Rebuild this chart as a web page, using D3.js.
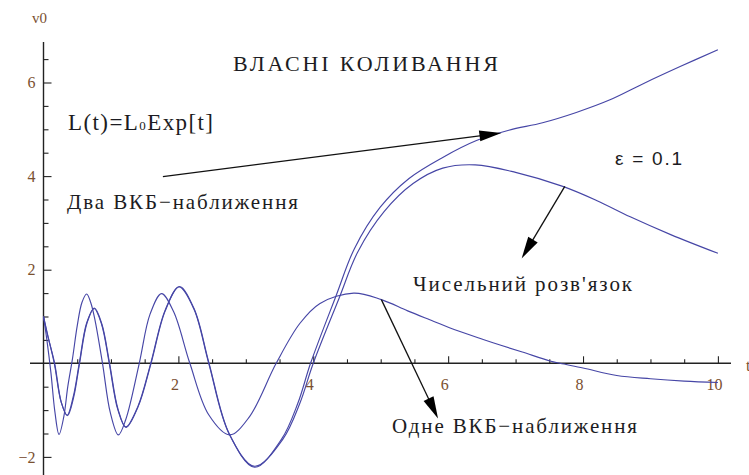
<!DOCTYPE html>
<html>
<head>
<meta charset="utf-8">
<script src="https://cdn.jsdelivr.net/npm/d3@7"></script>
<style>
  html, body { margin: 0; padding: 0; background: #fff; }
  svg { display: block; }
</style>
</head>
<body>
<svg id="chart" width="749" height="475"></svg>
<script>
// Numerical solution v0(t)
const numericalSolution = [
  [0, 1.0], [0.06, 0.62], [0.16, 0.0], [0.26, -0.82], [0.35, -1.11], [0.44, -0.72],
  [0.53, 0.0], [0.64, 0.86], [0.75, 1.17], [0.86, 0.84], [0.975, 0.0], [1.10, -0.98],
  [1.22, -1.36], [1.40, -0.92], [1.59, 0.0], [1.80, 1.12], [2.01, 1.63], [2.23, 1.16],
  [2.45, 0.0], [2.75, -1.5], [3.13, -2.2], [3.55, -1.62], [3.80, -0.86], [4.0, 0.0],
  [4.38, 1.38], [4.66, 2.38], [5.05, 3.24], [5.48, 3.84], [5.92, 4.17], [6.4, 4.24],
  [7.0, 4.08], [7.7, 3.78], [8.2, 3.48], [8.7, 3.13], [9.3, 2.75], [10, 2.35]
];

// Two-term WKB approximation
const twoWkb = [
  [0, 1.0], [0.06, 0.6], [0.165, 0.0], [0.265, -0.84], [0.355, -1.12], [0.445, -0.74],
  [0.535, 0.0], [0.645, 0.86], [0.755, 1.18], [0.865, 0.84], [0.98, 0.0], [1.105, -0.98],
  [1.225, -1.37], [1.405, -0.92], [1.595, 0.0], [1.805, 1.12], [2.015, 1.64], [2.235, 1.16],
  [2.455, 0.0], [2.755, -1.51], [3.13, -2.22], [3.53, -1.62], [3.77, -0.86], [3.96, 0.0],
  [4.34, 1.45], [4.61, 2.45], [4.99, 3.33], [5.42, 3.95], [5.92, 4.40], [6.42, 4.76],
  [6.9, 4.98], [7.4, 5.14], [7.9, 5.36], [8.4, 5.63], [8.9, 5.98], [9.44, 6.34], [10, 6.70]
];

// One-term WKB approximation
const oneWkb = [
  [0, 1.0], [0.05, 0.5], [0.11, -0.2], [0.17, -1.05], [0.23, -1.52], [0.30, -1.15],
  [0.36, -0.5], [0.43, 0.1], [0.50, 0.8], [0.57, 1.3], [0.64, 1.48], [0.70, 1.3],
  [0.76, 0.95], [0.875, 0.0], [0.99, -1.05], [1.11, -1.53], [1.22, -1.2], [1.42, 0.0],
  [1.58, 1.05], [1.75, 1.49], [1.93, 1.1], [2.17, 0.0], [2.45, -1.1], [2.76, -1.53],
  [3.05, -1.15], [3.45, 0.0], [3.8, 0.85], [4.1, 1.28], [4.6, 1.5], [5.01, 1.36],
  [5.4, 1.12], [5.78, 0.9], [6.02, 0.76], [6.52, 0.51], [6.77, 0.39], [7.1, 0.24],
  [7.51, 0.05], [7.66, 0.0], [8.0, -0.1], [8.5, -0.26], [9.0, -0.33], [9.5, -0.38],
  [10.0, -0.41]
];

const xMajorTicks = [2, 4, 6, 8, 10];
const yMajorTicks = [-2, 2, 4, 6];

const titleText = "ВЛАСНІ КОЛИВАННЯ";
const lawText = ["L(t)=L", "0", "Exp[t]"];
const twoWkbLabel = "Два ВКБ−наближення";
const numericalLabel = "Чисельний розв'язок";
const oneWkbLabel = "Одне ВКБ−наближення";
const epsLabel = "ε = 0.1";

// Arrow annotations: [from, to] in data units
const twoWkbArrow = [[1.77, 3.99], [6.79, 4.92]];
const numericalArrow = [[7.73, 3.78], [7.09, 2.24]];
const oneWkbArrow = [[5.01, 1.36], [5.85, -1.18]];

const svg = d3.select("#chart");
const x = d3.scaleLinear().domain([0, 10]).range([43.5, 717.9]);
const y = d3.scaleLinear().domain([0, 6]).range([363.3, 82.5]);

const serif = '"Liberation Serif", "DejaVu Serif", "Times New Roman", serif';
const sans = '"Liberation Sans", Arial, sans-serif';
const axisColor = "#222";
const tickLabelColor = "#7a5030";
const curveColor = "#4646a6";
const intFormat = d3.format("d");

// ----- axes -----
const xMinorTicks = d3.range(0.5, 10.01, 0.5).filter(v => !xMajorTicks.includes(v));
const yMinorTicks = d3.range(-2.5, 6.51, 0.5)
  .filter(v => !yMajorTicks.includes(v) && v !== 0 && y(v) > 42 && y(v) < 475);

function styleAxis(g) {
  g.attr("font-family", null).attr("font-size", null);
  g.select(".domain").remove();
  g.selectAll(".tick line").attr("stroke", axisColor).attr("stroke-width", 1.1);
  g.selectAll(".tick text")
    .attr("fill", tickLabelColor)
    .attr("font-family", serif)
    .attr("font-size", 16);
}

const xAxisG = svg.append("g").attr("transform", `translate(0,${y(0)})`);
xAxisG.append("g")
  .call(d3.axisBottom(x).tickValues(xMinorTicks).tickSizeInner(-4).tickSizeOuter(0).tickFormat(""))
  .call(styleAxis);
xAxisG.append("g")
  .call(d3.axisBottom(x).tickValues(xMajorTicks).tickSizeInner(-7).tickSizeOuter(0)
    .tickPadding(15).tickFormat(intFormat))
  .call(styleAxis)
  .call(g => g.selectAll(".tick text").attr("x", -4));

const yAxisG = svg.append("g").attr("transform", `translate(${x(0)},0)`);
yAxisG.append("g")
  .call(d3.axisLeft(y).tickValues(yMinorTicks).tickSizeInner(-5).tickSizeOuter(0).tickFormat(""))
  .call(styleAxis);
yAxisG.append("g")
  .call(d3.axisLeft(y).tickValues(yMajorTicks).tickSizeInner(-8).tickSizeOuter(0)
    .tickPadding(8).tickFormat(intFormat))
  .call(styleAxis);

// axis lines
svg.append("line")
  .attr("x1", 30).attr("x2", 731).attr("y1", y(0)).attr("y2", y(0))
  .attr("stroke", axisColor).attr("stroke-width", 1.4);
svg.append("line")
  .attr("x1", x(0)).attr("x2", x(0)).attr("y1", 42).attr("y2", 475)
  .attr("stroke", axisColor).attr("stroke-width", 1.4);

// axis names
svg.append("text")
  .attr("x", 32).attr("y", 23)
  .attr("fill", tickLabelColor)
  .attr("font-family", serif).attr("font-size", 15)
  .text("v0");
svg.append("text")
  .attr("x", 746).attr("y", 371)
  .attr("fill", tickLabelColor)
  .attr("font-family", serif).attr("font-size", 16)
  .text("t");

// ----- curves -----
const line = d3.line()
  .x(d => x(d[0]))
  .y(d => y(d[1]))
  .curve(d3.curveCatmullRom.alpha(0.5));

[numericalSolution, twoWkb, oneWkb].forEach(series => {
  svg.append("path")
    .attr("d", line(series))
    .attr("fill", "none")
    .attr("stroke", curveColor)
    .attr("stroke-width", 1.15);
});

// ----- arrows -----
function drawArrow([from, to]) {
  const x1 = x(from[0]), y1 = y(from[1]);
  const x2 = x(to[0]), y2 = y(to[1]);
  const dx = x2 - x1, dy = y2 - y1;
  const len = Math.hypot(dx, dy);
  const ux = dx / len, uy = dy / len;
  const headLen = 22, headHalf = 5.5;
  const bx = x2 - ux * headLen, by = y2 - uy * headLen;
  svg.append("line")
    .attr("x1", x1).attr("y1", y1).attr("x2", bx + ux * 2).attr("y2", by + uy * 2)
    .attr("stroke", "#111").attr("stroke-width", 1.3);
  svg.append("path")
    .attr("d", `M${x2},${y2} L${bx - uy * headHalf},${by + ux * headHalf} L${bx + uy * headHalf},${by - ux * headHalf} Z`)
    .attr("fill", "#000");
}
[twoWkbArrow, numericalArrow, oneWkbArrow].forEach(drawArrow);

// ----- labels -----
function label(txt, px, py, size, width, family) {
  return svg.append("text")
    .attr("x", px).attr("y", py)
    .attr("fill", "#1c1c22")
    .attr("textLength", width)
    .attr("lengthAdjust", "spacing")
    .attr("font-family", family || serif)
    .attr("font-size", size)
    .text(txt);
}

label(titleText, 233, 71, 22, 265);
label(twoWkbLabel, 67, 209, 21, 231);
label(numericalLabel, 413, 291, 21, 219);
label(oneWkbLabel, 392, 433, 21, 245);
label(epsLabel, 615, 165, 19, 67, sans);

const law = svg.append("text")
  .attr("x", 68).attr("y", 130)
  .attr("fill", "#1c1c22")
  .attr("textLength", 145)
  .attr("lengthAdjust", "spacing")
  .attr("font-family", serif)
  .attr("font-size", 23);
law.append("tspan").text(lawText[0]);
law.append("tspan").attr("font-size", 13).text(lawText[1]);
law.append("tspan").text(lawText[2]);
</script>
</body>
</html>
